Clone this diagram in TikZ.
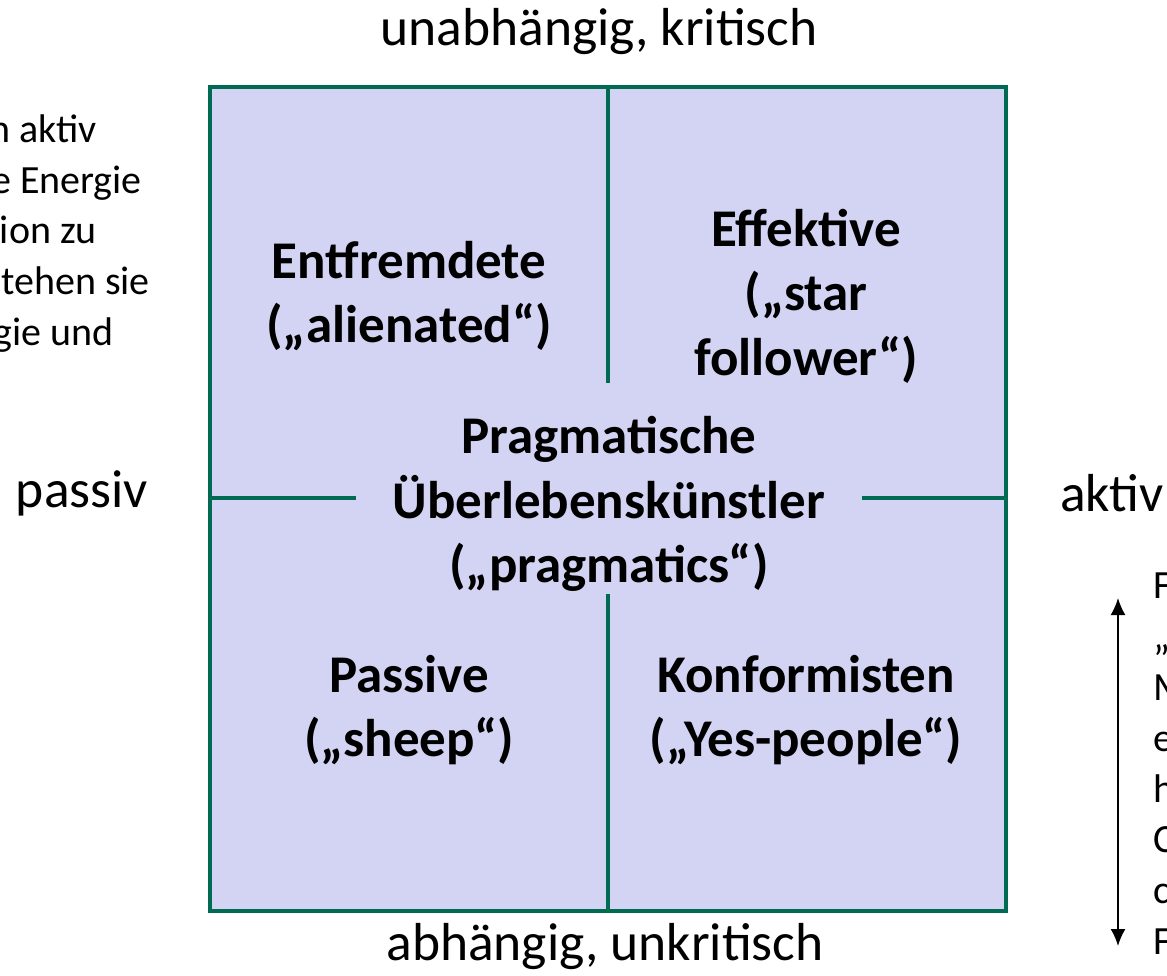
\documentclass[tikz,border=0pt]{standalone}
\usepackage{fontspec}
\setmainfont{Carlito}
\usetikzlibrary{arrows.meta}
\definecolor{gridgreen}{RGB}{0,106,82}
\definecolor{fieldblue}{RGB}{211,211,243}
\tikzset{
    quad/.style={font=\fontsize{53}{64.5}\selectfont\bfseries, align=center},
    axis/.style={font=\fontsize{53.5}{64}\selectfont},
    side/.style={font=\fontsize{40}{50.8}\selectfont, inner sep=0pt},
    bothtips/.style={{Latex[length=17pt,width=15pt]}-{Latex[length=17pt,width=15pt]}}
}
\begin{document}
\begin{tikzpicture}[x=1pt,y=-1pt]

    % Fix the frame of the picture
    \useasboundingbox (0,0) rectangle (1167,975);

    % Define the corners and the side midpoints of the field
    \coordinate (NW) at (210,87);
    \coordinate (SE) at (1006,911);
    \coordinate (N) at (608,87);
    \coordinate (S) at (608,911);
    \coordinate (W) at (210,498);
    \coordinate (E) at (1006,498);

    % Ends of the cross where it stops short of the centre label
    \coordinate (gapN) at (608,383);
    \coordinate (gapS) at (608,594);
    \coordinate (gapW) at (356,498);
    \coordinate (gapE) at (862,498);

    % Draw the field and the broken cross
    \fill[fieldblue] (NW) rectangle (SE);
    \draw[gridgreen, line width=3.5pt] (N) -- (gapN);
    \draw[gridgreen, line width=3.5pt] (gapS) -- (S);
    \draw[gridgreen, line width=3.5pt] (W) -- (gapW);
    \draw[gridgreen, line width=3.5pt] (gapE) -- (E);
    \draw[gridgreen, line width=4pt] (NW) rectangle (SE);

    % Centre label
    \node[quad] (prag) at (609,504)
        {Pragmatische\\Überlebenskünstler\\(„pragmatics“)};

    % Add the four quadrant labels
    \node[quad] (alien) at (409,296) {Entfremdete\\(„alienated“)};
    \node[quad] (eff) at (806,296) {Effektive\\(„star\\follower“)};
    \node[quad] (sheep) at (409,710) {Passive\\(„sheep“)};
    \node[quad] (yes) at (806,710) {Konformisten\\(„Yes-people“)};

    % Add the axis labels
    \node[axis] (top) at (599,32) {unabhängig, kritisch};
    \node[axis] (bottom) at (605,947) {abhängig, unkritisch};
    \node[axis] (left) at (82,493) {passiv};
    \node[axis] (right) at (1112,493) {aktiv};

    % Text running in from the left edge, one line at a time
    \node[side, anchor=base east] (lefta) at (97,142) {n aktiv};
    \node[side, anchor=base east] (leftb) at (142,193) {e Energie};
    \node[side, anchor=base east] (leftc) at (97,243) {ion zu};
    \node[side, anchor=base east] (leftd) at (150,294) {tehen sie};
    \node[side, anchor=base east] (lefte) at (114,345) {gie und};

    % Text running out at the right edge
    \node[side, anchor=north west, align=left] (righttext) at (1153,573)
        {F\\„\\M\\e\\h\\C\\c\\F};

    % Double arrow beside the right text
    \coordinate (up) at (1118,598);
    \coordinate (down) at (1118,946);
    \draw[bothtips, line width=1.8pt] (up) -- (down);

\end{tikzpicture}
\end{document}
